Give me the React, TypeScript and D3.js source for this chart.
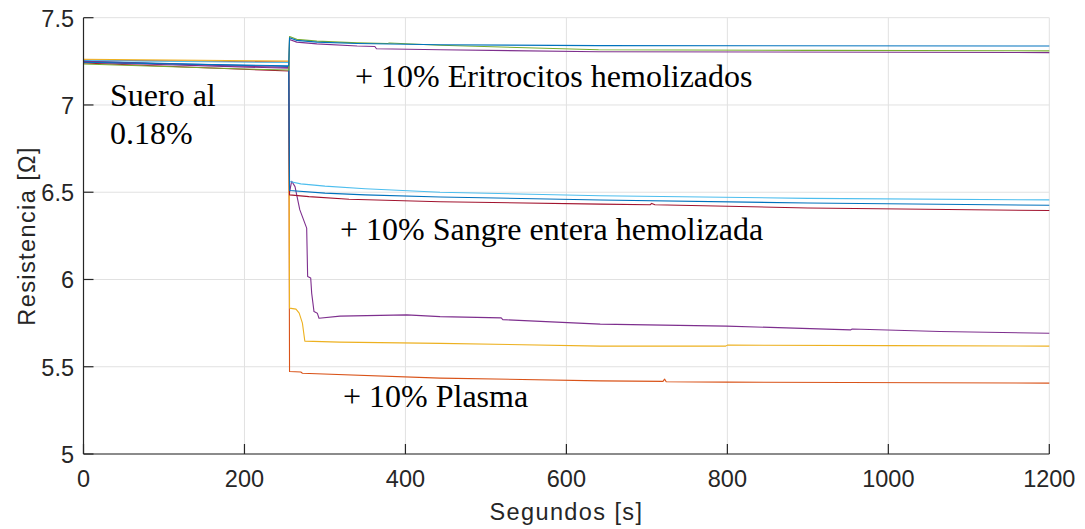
import React from "react";
import * as d3 from "d3";

// Resistance time series: [time (s), resistance (Ω)]
const eriBlue: [number, number][] = [
  [0, 7.245], [100, 7.236], [200, 7.228], [255, 7.225], [256, 7.385], [265, 7.37],
  [290, 7.36], [340, 7.352], [443, 7.345], [640, 7.34], [1200, 7.338],
];
const eriGreen: [number, number][] = [
  [0, 7.235], [100, 7.22], [200, 7.206], [255, 7.2], [256, 7.392], [265, 7.376],
  [290, 7.366], [340, 7.356], [378, 7.352], [380, 7.355], [443, 7.342], [640, 7.316],
  [900, 7.313], [1200, 7.31],
];
const eriPurple: [number, number][] = [
  [0, 7.25], [100, 7.236], [200, 7.222], [255, 7.215], [256, 7.375], [265, 7.36],
  [290, 7.35], [340, 7.338], [362, 7.335], [364, 7.322], [443, 7.316], [640, 7.305],
  [1200, 7.3],
];
const sangreLightBlue: [number, number][] = [
  [0, 7.255], [255, 7.243], [256, 6.561], [270, 6.548], [300, 6.535], [350, 6.52],
  [443, 6.5], [642, 6.48], [900, 6.465], [1200, 6.456],
];
const sangreBlue: [number, number][] = [
  [0, 7.25], [255, 7.22], [256, 6.51], [300, 6.495], [350, 6.485], [443, 6.473],
  [642, 6.455], [900, 6.438], [1200, 6.425],
];
const sangreDarkRed: [number, number][] = [
  [0, 7.24], [255, 7.195], [256, 6.485], [280, 6.475], [330, 6.46], [443, 6.445],
  [642, 6.432], [704, 6.428], [706, 6.436], [710, 6.428], [900, 6.41], [1200, 6.395],
];
const plasmaPurple: [number, number][] = [
  [0, 7.245], [255, 7.21], [256, 6.5], [258.7, 6.563], [262.8, 6.532], [268.7, 6.4],
  [277.3, 6.294], [278.5, 6.017], [282.3, 6.008], [283.5, 5.922], [286.4, 5.816],
  [290.5, 5.807], [292.6, 5.778], [318.7, 5.79], [401.6, 5.797], [443, 5.787],
  [519, 5.78], [521, 5.77], [642, 5.744], [799, 5.733], [953, 5.711], [955, 5.716],
  [1064, 5.702], [1200, 5.692],
];
const plasmaYellow: [number, number][] = [
  [0, 7.262], [255, 7.252], [256, 5.836], [264, 5.83], [268, 5.807], [272, 5.75],
  [275, 5.647], [318, 5.641], [443, 5.634], [642, 5.618], [798, 5.618], [800, 5.624],
  [1000, 5.621], [1200, 5.618],
];
const plasmaOrange: [number, number][] = [
  [0, 7.258], [255, 7.246], [256, 5.473], [270, 5.47], [272, 5.463], [443, 5.435],
  [642, 5.419], [720, 5.416], [722, 5.429], [724, 5.414], [799, 5.412], [1200, 5.406],
];

const seriesList = [
  { data: plasmaOrange, color: "#D95319" },
  { data: plasmaYellow, color: "#EDB120" },
  { data: plasmaPurple, color: "#7E2F8E" },
  { data: sangreLightBlue, color: "#4DBEEE" },
  { data: sangreDarkRed, color: "#A2142F" },
  { data: sangreBlue, color: "#0072BD" },
  { data: eriPurple, color: "#7E2F8E" },
  { data: eriGreen, color: "#77AC30" },
  { data: eriBlue, color: "#0072BD" },
];

const xTicks = [0, 200, 400, 600, 800, 1000, 1200];
const yTicks = [5, 5.5, 6, 6.5, 7, 7.5];
const yTickLabels = ["5", "5.5", "6", "6.5", "7", "7.5"];

const annotations = [
  { text: "Suero al", x: 110, y: 106 },
  { text: "0.18%", x: 110, y: 144 },
  { text: "+ 10% Eritrocitos hemolizados", x: 355, y: 87 },
  { text: "+ 10% Sangre entera hemolizada", x: 340, y: 240 },
  { text: "+ 10% Plasma", x: 343, y: 407 },
];

const W = 1085;
const H = 529;
const left = 83.5;
const right = 1049.3;
const top = 17.7;
const bottom = 454;

export default function App() {
  const x = d3.scaleLinear().domain([0, 1200]).range([left, right]);
  const y = d3.scaleLinear().domain([5, 7.5]).range([bottom, top]);
  const line = d3
    .line<[number, number]>()
    .x((d) => x(d[0]))
    .y((d) => y(d[1]));

  const axisColor = "#262626";
  const tickFont = "'Liberation Sans', Arial, sans-serif";

  return (
    <svg
      width={W}
      height={H}
      style={{ position: "absolute", left: 0, top: 0, background: "#fff" }}
    >
      <rect width={W} height={H} fill="#fff" />
      {/* grid */}
      <g stroke="#e1e1e1" strokeWidth={1}>
        {xTicks.map((t) => (
          <line key={"gx" + t} x1={x(t)} x2={x(t)} y1={top} y2={bottom} />
        ))}
        {yTicks.map((t) => (
          <line key={"gy" + t} x1={left} x2={right} y1={y(t)} y2={y(t)} />
        ))}
      </g>
      {/* series */}
      <g fill="none" strokeWidth={1.1} strokeLinejoin="round">
        {seriesList.map((s, i) => (
          <path key={i} d={line(s.data) || ""} stroke={s.color} />
        ))}
      </g>
      {/* axes */}
      <g stroke={axisColor} strokeWidth={1.2}>
        <line x1={left} x2={left} y1={top} y2={bottom} />
        <line x1={left} x2={right} y1={bottom} y2={bottom} />
        {xTicks.map((t) => (
          <line key={"tx" + t} x1={x(t)} x2={x(t)} y1={bottom} y2={bottom - 10} />
        ))}
        {yTicks.map((t) => (
          <line key={"ty" + t} x1={left} x2={left + 10} y1={y(t)} y2={y(t)} />
        ))}
      </g>
      <g fill={axisColor} fontFamily={tickFont} fontSize={23.5}>
        {xTicks.map((t) => (
          <text key={"lx" + t} x={x(t)} y={486.5} textAnchor="middle">
            {t}
          </text>
        ))}
        {yTicks.map((t, i) => (
          <text key={"ly" + t} x={74} y={y(t) + 9} textAnchor="end">
            {yTickLabels[i]}
          </text>
        ))}
        <text x={(left + right) / 2} y={520} textAnchor="middle" letterSpacing={1.4}>
          Segundos [s]
        </text>
        <text
          transform={`translate(35,${(top + bottom) / 2}) rotate(-90)`}
          textAnchor="middle"
          letterSpacing={1.4}
        >
          Resistencia [Ω]
        </text>
      </g>
      {/* annotations */}
      <g fill="#000" fontFamily="'Liberation Serif', 'Times New Roman', serif" fontSize={32}>
        {annotations.map((a) => (
          <text key={a.text} x={a.x} y={a.y}>
            {a.text}
          </text>
        ))}
      </g>
    </svg>
  );
}
